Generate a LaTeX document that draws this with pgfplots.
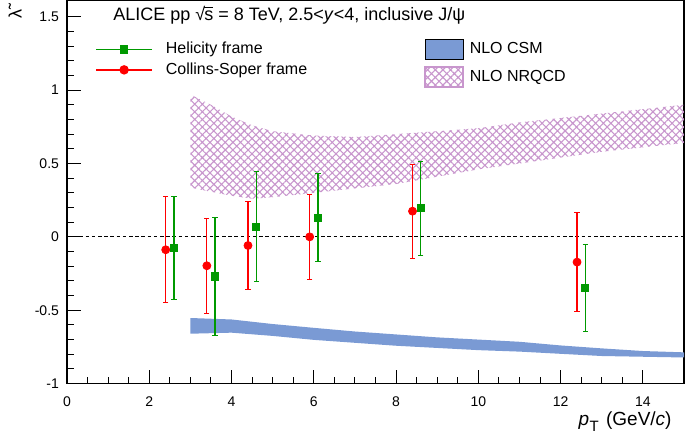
\documentclass[border=0pt]{standalone}
\usepackage{pgfplots}
\pgfplotsset{compat=1.18}
\usepackage{fontspec}
\setmainfont{Liberation Sans}
\usetikzlibrary{patterns.meta}

\definecolor{hgreen}{RGB}{0,153,0}
\definecolor{csred}{RGB}{255,0,0}
\definecolor{csmblue}{RGB}{122,154,212}
\definecolor{nrqcd}{RGB}{200,150,205}

\begin{document}
\begin{tikzpicture}
\begin{axis}[
  name=main,
  width=308.5pt, height=191.5pt, scale only axis,
  xmin=0, xmax=15, ymin=-1, ymax=1.61,
  xtick={0,2,4,6,8,10,12,14}, xticklabels={0,2,4,6,8,10,12,14},
  ytick={-1,-0.5,0,0.5,1,1.5}, yticklabels={-1,-0.5,0,0.5,1,1.5},
  minor x tick num=3, minor y tick num=4,
  tick align=inside, tick pos=left,
  major tick length=7pt, minor tick length=3.5pt,
  axis line style={line width=0.6pt},
  every tick/.style={black, line width=0.5pt},
  tick label style={font=\fontsize{7}{8}\selectfont},
  xticklabel style={yshift=-3pt},
  yticklabel style={xshift=-0.5pt},
  xlabel={\textit{p}\kern0.3pt\raisebox{-0.6ex}{\fontsize{7.5}{8}\selectfont T}\kern1pt\ (GeV/\textit{c})},
  xlabel style={at={(axis description cs:0.9805,-0.10)}, anchor=east, inner sep=0pt, font=\fontsize{9.5}{10}\selectfont},
  ylabel={\~{λ}},
  ylabel style={at={(axis description cs:-0.084,0.966)}, anchor=center, inner sep=0pt, font=\fontsize{9}{10}\selectfont},
  legend style={draw=none, fill=none, at={(axis description cs:0.5786,0.902)}, anchor=north west,
    font=\fontsize{8}{9}\selectfont, inner sep=0pt, row sep=3.5pt,
    nodes={inner sep=0pt, anchor=west}, column sep=3pt},
  legend cell align=left,
  legend image code/.code={\draw[#1] (0pt,-5pt) rectangle (19pt,5pt);},
]
% NLO CSM band
\addplot[fill=csmblue, draw=none, forget plot] coordinates {
 (3,-0.553) (4,-0.563) (5,-0.594) (6,-0.620) (7,-0.645) (8,-0.665) (9,-0.685)
 (10,-0.700) (11,-0.715) (12,-0.740) (13,-0.760) (14,-0.778) (15,-0.787)
 (15,-0.822) (14,-0.817) (13,-0.812) (12,-0.797) (11,-0.782) (10,-0.772)
 (9,-0.757) (8,-0.742) (7,-0.722) (6,-0.702) (5,-0.675) (4,-0.653) (3,-0.660)
} -- cycle;
% NLO NRQCD band
\addplot[pattern={Hatch[angle=45, distance=2.7pt, line width=0.55pt]}, pattern color=nrqcd, draw=none, forget plot] coordinates {
 (3,0.97) (3.5,0.90) (4,0.82) (4.5,0.76) (5,0.72) (6,0.69) (7,0.68) (8,0.70)
 (9,0.72) (10,0.74) (11,0.78) (12,0.81) (13,0.84) (14,0.87) (15,0.90)
 (15,0.64) (14,0.61) (13,0.58) (12,0.54) (11,0.50) (10,0.46) (9,0.41)
 (8,0.36) (7,0.33) (6,0.30) (5,0.27) (4.5,0.26) (4,0.28) (3,0.335)
} -- cycle;
\addlegendimage{fill=csmblue, draw=none}
\addlegendentry{NLO CSM}
\addlegendimage{pattern={Hatch[angle=45, distance=2.7pt, line width=0.55pt]}, pattern color=nrqcd, draw=nrqcd, line width=0.7pt}
\addlegendentry{NLO NRQCD}
\end{axis}

\begin{axis}[
  at={(main.south west)}, anchor=south west,
  width=308.5pt, height=191.5pt, scale only axis,
  xmin=0, xmax=15, ymin=-1, ymax=1.61,
  hide axis,
  legend style={draw=none, fill=none, at={(axis description cs:0.0454,0.893)}, anchor=north west,
    font=\fontsize{8}{9}\selectfont, inner sep=0pt, row sep=3pt,
    nodes={inner sep=0pt, anchor=west}, column sep=6.5pt},
  legend cell align=left,
  legend image code/.code={\draw[mark repeat=2,mark phase=2,#1] plot coordinates {(0pt,0pt) (14pt,0pt) (28pt,0pt)};},
]
\addplot[black, line width=0.5pt, dash pattern=on 1.8pt off 1.3pt, forget plot] coordinates {(0,0) (15,0)};

\addplot[color=hgreen, only marks, mark=square*, mark size=1.8pt, forget plot,
  error bars/.cd, y dir=both, y explicit,
  error bar style={line width=0.6pt, draw=hgreen},
  error mark options={rotate=90, mark size=1.3pt, line width=0.5pt, draw=hgreen}]
 coordinates {
 (2.6,-0.075) +- (0,0.35)
 (3.6,-0.270) +- (0,0.40)
 (4.6,0.070) +- (0,0.377)
 (6.1,0.131) +- (0,0.302)
 (8.6,0.195) +- (0,0.32)
 (12.6,-0.347) +- (0,0.295)
};
\addplot[color=csred, only marks, mark=*, mark size=2pt, forget plot,
  error bars/.cd, y dir=both, y explicit,
  error bar style={line width=0.6pt, draw=csred},
  error mark options={rotate=90, mark size=1.3pt, line width=0.5pt, draw=csred}]
 coordinates {
 (2.4,-0.088) +- (0,0.36)
 (3.4,-0.197) +- (0,0.325)
 (4.4,-0.059) +- (0,0.30)
 (5.9,0.000) +- (0,0.29)
 (8.4,0.175) +- (0,0.32)
 (12.4,-0.172) +- (0,0.337)
};
\addlegendimage{draw=hgreen, fill=hgreen, mark=square*, mark size=1.8pt, line width=0.7pt}
\addlegendentry{Helicity frame}
\addlegendimage{draw=csred, fill=csred, mark=*, mark size=2pt, line width=0.7pt}
\addlegendentry{Collins-Soper frame}

\node[anchor=base west, inner sep=0pt, font=\fontsize{9}{10}\selectfont]
  at (axis description cs:0.0746,0.947)
  {ALICE pp √\kern-0.05em\rlap{\rule[0.74em]{0.48em}{0.4pt}}s = 8 TeV, 2.5<\textit{y}<4, inclusive J/ψ};
\end{axis}
\pgfresetboundingbox
\path ([shift={(-33.5pt,-30.2pt)}]main.south west) rectangle ([shift={(0.5pt,0.3pt)}]main.north east);
\end{tikzpicture}
\end{document}
